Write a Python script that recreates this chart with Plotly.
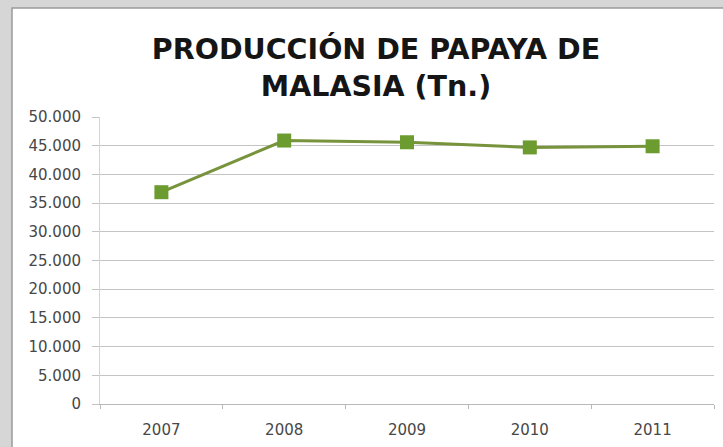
import plotly.graph_objects as go

years = ["2007", "2008", "2009", "2010", "2011"]
production = [36900, 45900, 45600, 44700, 44900]
y_ticks = [0, 5000, 10000, 15000, 20000, 25000, 30000, 35000, 40000, 45000, 50000]
y_tick_labels = ["0", "5.000", "10.000", "15.000", "20.000", "25.000", "30.000",
                 "35.000", "40.000", "45.000", "50.000"]

W, H = 723, 447
L, R, T, B = 100, 9, 117, 43
pw, ph = W - L - R, H - T - B

def px_x(p):
    return (p - L) / pw

def px_y(p):
    return (H - B - p) / ph

fig = go.Figure()
fig.add_trace(go.Scatter(
    x=years, y=production, mode="lines+markers",
    line=dict(color="#77933C", width=3),
    marker=dict(symbol="square", size=14, color="#6C9B2F"),
    hoverinfo="x+y", showlegend=False,
))

fig.update_layout(
    width=W, height=H,
    margin=dict(l=L, r=R, t=T, b=B),
    paper_bgcolor="#d6d6d6",
    plot_bgcolor="white",
    title=dict(
        text="PRODUCCIÓN DE PAPAYA DE<br>MALASIA (Tn.)",
        font=dict(family="DejaVu Sans", size=28.5, color="#151515", weight="bold"),
        x=376 / W, xref="container", xanchor="center",
        y=1 - 59 / H, yref="container", yanchor="middle",
    ),
    shapes=[dict(
        type="rect", xref="paper", yref="paper", layer="below",
        x0=px_x(12), x1=px_x(W + 2), y0=px_y(H + 2), y1=px_y(8),
        fillcolor="white", line=dict(color="#9a9a9a", width=1.5),
    )],
    xaxis=dict(
        type="category", range=[-0.5, 4.5],
        tickson="boundaries", ticks="outside", ticklen=4, tickcolor="#b8b8b8",
        showline=True, linecolor="#b8b8b8", linewidth=1,
        showgrid=False, zeroline=False,
        tickfont=dict(family="DejaVu Sans", size=15, color="#474747"),
        ticklabelstandoff=12,
    ),
    yaxis=dict(
        range=[0, 50000], tickvals=y_ticks, ticktext=y_tick_labels,
        ticks="outside", ticklen=7, tickcolor="#c4c4c4",
        showline=True, linecolor="#d4d4d4", linewidth=1,
        showgrid=True, gridcolor="#c4c4c4", gridwidth=1, zeroline=False,
        tickfont=dict(family="DejaVu Sans", size=15, color="#474747"),
        ticklabelstandoff=8,
    ),
)

fig.write_html("out.html", config={"displayModeBar": False})

# remove the default page margin so the figure sits at the window origin
with open("out.html", "r", encoding="utf-8") as f:
    html = f.read()
html = html.replace("<head>", "<head><style>html,body{margin:0;padding:0;overflow:hidden;}</style>", 1)
with open("out.html", "w", encoding="utf-8") as f:
    f.write(html)
